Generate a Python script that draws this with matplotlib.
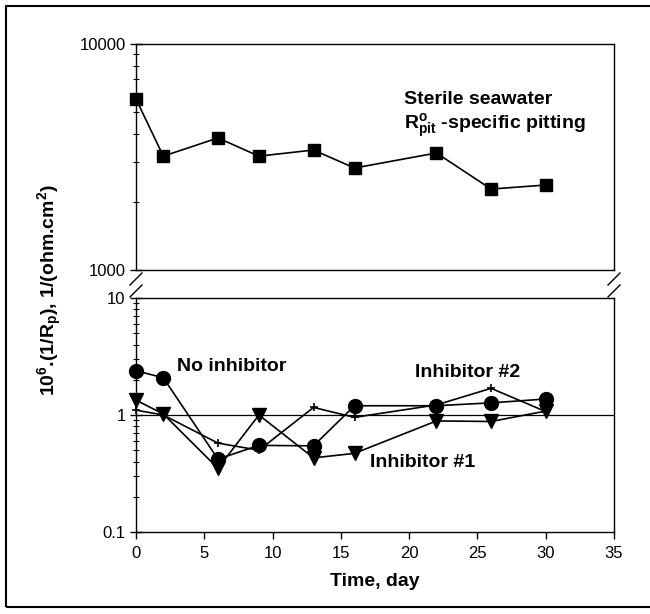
import matplotlib
matplotlib.use("Agg")
import matplotlib.pyplot as plt
from matplotlib.lines import Line2D
from matplotlib.patches import Rectangle
from matplotlib.ticker import LogLocator, FixedLocator, NullFormatter, FixedFormatter

plt.rcParams['font.family'] = ['Liberation Sans', 'DejaVu Sans']
plt.rcParams['mathtext.fontset'] = 'custom'
plt.rcParams['mathtext.rm'] = 'Liberation Sans'
plt.rcParams['mathtext.bf'] = 'Liberation Sans:bold'
plt.rcParams['mathtext.it'] = 'Liberation Sans:italic'

# ---- data ----
days = [0, 2, 6, 9, 13, 16, 22, 26, 30]
sterile_pit = [5710, 3190, 3840, 3190, 3395, 2827, 3294, 2281, 2377]
no_inhibitor = [2.39, 2.08, 0.42, 0.55, 0.545, 1.20, 1.20, 1.27, 1.37]
inhibitor1 = [1.34, 1.02, 0.35, 1.0, 0.43, 0.47, 0.89, 0.88, 1.08]
inhibitor2 = [1.10, 1.0, 0.575, 0.50, 1.16, 0.955, 1.22, 1.69, 1.07]

x_ticks = [0, 5, 10, 15, 20, 25, 30, 35]
top_yticks = [1000, 10000]
bottom_yticks = [0.1, 1, 10]

W, H = 650, 614
fig = plt.figure(figsize=(6.5, 6.14), dpi=100)

def fx(px):
    return px / W

def fy(py):
    return 1 - py / H

left, right = 136, 614
ax_top = fig.add_axes([fx(left), fy(270), fx(right) - fx(left), fy(44) - fy(270)])
ax_bot = fig.add_axes([fx(left), fy(532), fx(right) - fx(left), fy(298) - fy(532)])

for ax in (ax_top, ax_bot):
    ax.set_yscale('log')
    ax.set_xlim(0, 35)
    for s in ax.spines.values():
        s.set_linewidth(1.0)
    ax.yaxis.set_minor_locator(LogLocator(base=10, subs=range(2, 10)))
    ax.yaxis.set_minor_formatter(NullFormatter())
    ax.tick_params(axis='y', which='major', direction='inout', length=8, width=1,
                   labelsize=12, right=False)
    ax.tick_params(axis='y', which='minor', direction='inout', length=4, width=0.8, right=False)

# top panel
ax_top.set_ylim(1000, 10000)
ax_top.yaxis.set_major_locator(FixedLocator(top_yticks))
ax_top.yaxis.set_major_formatter(FixedFormatter([str(v) for v in top_yticks]))
ax_top.tick_params(axis='x', which='both', bottom=False, labelbottom=False)
ax_top.plot(days, sterile_pit, color='black', lw=1.2, marker='s', ms=8.5,
            markerfacecolor='black', clip_on=False, zorder=3)
ax_top.text(19.6, sterile_pit[0], 'Sterile seawater', fontsize=14, fontweight='bold',
            va='center', ha='left')
ax_top.text(19.6, 4350, r'R$^{\mathbf{o}}_{\mathbf{pit}}$ -specific pitting', fontsize=14,
            fontweight='bold', va='center', ha='left')

# bottom panel
ax_bot.set_ylim(0.1, 10)
ax_bot.yaxis.set_major_locator(FixedLocator(bottom_yticks))
ax_bot.yaxis.set_major_formatter(FixedFormatter(['0.1', '1', '10']))
ax_bot.set_xticks(x_ticks)
ax_bot.set_xticklabels([str(v) for v in x_ticks])
ax_bot.tick_params(axis='x', which='major', direction='out', length=5, width=1,
                   labelsize=12, top=False, pad=5)
ax_bot.axhline(1, color='black', lw=0.9, zorder=1)

ax_bot.plot(days, inhibitor2, color='black', lw=1.2, marker='+', ms=6, mew=1.2,
            clip_on=False, zorder=3)
ax_bot.plot(days, inhibitor1, color='black', lw=1.2, marker='v', ms=10,
            markerfacecolor='black', clip_on=False, zorder=3)
ax_bot.plot(days, no_inhibitor, color='black', lw=1.2, marker='o', ms=10,
            markerfacecolor='black', clip_on=False, zorder=4)

ax_bot.text(3.0, 2.6, 'No inhibitor', fontsize=14, fontweight='bold', va='center', ha='left')
ax_bot.text(20.4, 2.3, 'Inhibitor #2', fontsize=14, fontweight='bold', va='center', ha='left')
ax_bot.text(17.1, 0.39, 'Inhibitor #1', fontsize=14, fontweight='bold', va='center', ha='left')

ax_bot.set_xlabel('Time, day', fontsize=14, fontweight='bold', labelpad=9)

fig.text(fx(50), fy(290),
         r'10$^{\mathbf{6}}$.(1/R$_{\mathbf{p}}$), 1/(ohm.cm$^{\mathbf{2}}$)',
         rotation=90, fontsize=14, fontweight='bold', va='center', ha='center')

# axis break marks
for xc in (left, right):
    for yc in (279, 291):
        fig.add_artist(Line2D([fx(xc - 6), fx(xc + 6)], [fy(yc + 6), fy(yc - 6)],
                              color='black', lw=1.0))

# outer frame
fig.add_artist(Rectangle((fx(6), fy(607)), fx(660) - fx(6), fy(6) - fy(607),
                         fill=False, edgecolor='black', lw=1.5, transform=fig.transFigure))

fig.savefig('out.png', dpi=100)
